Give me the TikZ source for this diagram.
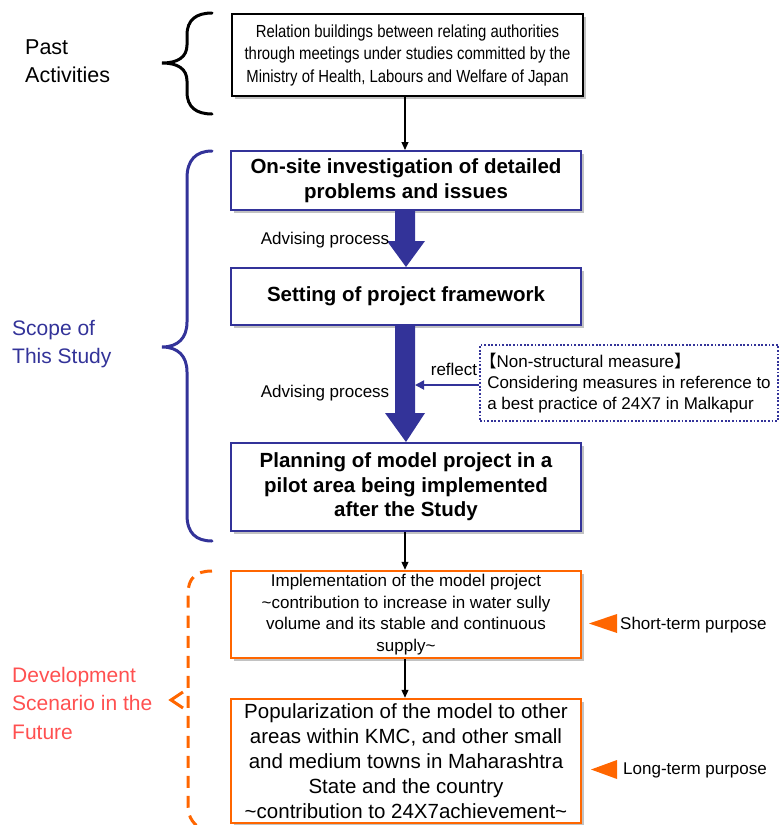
\documentclass[tikz,border=0pt]{standalone}
\usepackage{fontspec}
\setmainfont{Liberation Sans}
\newfontfamily\narrowfont{Liberation Sans}[FakeStretch=0.85]
\newfontfamily\cjk{Noto Sans CJK JP}
\usetikzlibrary{shadows,arrows.meta,calc}
\definecolor{navyC}{RGB}{51,51,153}
\definecolor{orangeC}{RGB}{255,102,0}
\definecolor{devC}{RGB}{255,80,80}
\tikzset{
  shadowed/.style={drop shadow={shadow xshift=3pt,shadow yshift=-3pt,fill=black!40,opacity=0.6}},
  blackbox/.style={draw=black,line width=2pt,fill=white,shadowed,minimum width=351pt,align=center,inner sep=0pt,
    font=\narrowfont\fontsize{17.5}{22.5}\selectfont},
  bluebox/.style={draw=navyC,line width=2pt,fill=white,shadowed,minimum width=350pt,align=center,inner sep=0pt,
    font=\bfseries\fontsize{20.5}{24.5}\selectfont},
  orangebox/.style={draw=orangeC,line width=2.5pt,fill=white,shadowed,minimum width=350pt,align=center,inner sep=0pt},
  thinarrow/.style={draw=black,line width=1.1pt,-{Triangle[length=8pt,width=7pt]}},
  sidelabel/.style={anchor=west,align=left,inner sep=0pt,font=\fontsize{21.5}{28}\selectfont},
  plain/.style={inner sep=0pt,font=\fontsize{17}{21}\selectfont},
  bracestyle/.style={line width=3pt,line cap=round}
}
\begin{document}
\begin{tikzpicture}[x=1pt,y=-1pt]
\useasboundingbox (0,0) rectangle (782,825);

% boxes
\node[blackbox,minimum height=82pt] (top) at (407.5,55) {Relation buildings between relating authorities\\through meetings under studies committed by the\\Ministry of Health, Labours and Welfare of Japan};
\node[bluebox,minimum height=59pt] (b2) at (406,180.5) {On-site investigation of detailed\\problems and issues};
\node[bluebox,minimum height=57pt] (b3) at (406,296.5) {Setting of project framework};
\node[bluebox,minimum height=88pt] (b4) at (406,487) {Planning of model project in a\\pilot area being implemented\\after the Study};
\node[orangebox,minimum height=87pt,font=\fontsize{17}{21.5}\selectfont] (b5) at (406,614.5) {Implementation of the model project\\\textasciitilde contribution to increase in water sully\\volume and its stable and continuous\\supply\textasciitilde};
\node[orangebox,minimum height=124pt,font=\fontsize{20.5}{25}\selectfont] (b6) at (406,761) {Popularization of the model to other\\areas within KMC, and other small\\and medium towns in Maharashtra\\State and the country\\\textasciitilde contribution to 24X7achievement\textasciitilde};

\node[draw=navyC,line width=1.8pt,dash pattern=on 1.8pt off 1.8pt,fill=white,minimum width=298pt,minimum height=76pt,
  align=left,inner sep=0pt,font=\fontsize{17}{21}\selectfont] (dot) at (629,383)
  {{\cjk\hspace*{-0.45em}【}Non-structural measure{\cjk 】}\\Considering measures in reference to\\a best practice of 24X7 in Malkapur};

% side labels
\node[sidelabel] (past) at (25,61) {Past\\Activities};
\node[sidelabel,text=navyC,font=\fontsize{21}{28}\selectfont] (scope) at (12,344) {Scope of\\This Study};
\node[sidelabel,text=devC,font=\fontsize{21}{28.5}\selectfont] (dev) at (12,703) {Development\\Scenario in the\\Future};

% thin arrows
\draw[thinarrow] (top.south -| 405,0) -- (b2.north -| 405,0);
\draw[thinarrow] (b4.south -| 405,0) -- (b5.north -| 405,0);
\draw[thinarrow] (b5.south -| 405,0) -- (b6.north -| 405,0);

% thick arrows
\fill[navyC] ($(b2.south)+(-11,0)$) -- ($(b3.north)+(-11,-26)$) -- ($(b3.north)+(-19,-26)$) -- (b3.north)
  -- ($(b3.north)+(19,-26)$) -- ($(b3.north)+(9,-26)$) -- ($(b2.south)+(9,0)$) -- cycle;
\fill[navyC] ($(b3.south)+(-11,0)$) -- ($(b4.north)+(-11,-29)$) -- ($(b4.north)+(-21,-29)$) -- (b4.north)
  -- ($(b4.north)+(19,-29)$) -- ($(b4.north)+(9,-29)$) -- ($(b3.south)+(9,0)$) -- cycle;

\node[plain] (adv1) at (325,240) {Advising process};
\node[plain] (adv2) at (325,393) {Advising process};

% reflect arrow
\coordinate (rt) at (415,385);
\draw[navyC,line width=1.8pt,-{Triangle[length=9pt,width=9pt]}] (dot.west |- rt) -- (rt);
\node[plain] (refl) at (454,369) {reflect};

% purposes
\node[plain,anchor=west] (st) at (620,625) {Short-term purpose};
\node[plain,anchor=west] (lt) at (623,770) {Long-term purpose};
\fill[orangeC] (589,623.5) -- (617,614) -- (617,633) -- cycle;
\fill[orangeC] (591,769.5) -- (617,760) -- (617,779) -- cycle;

% braces
\draw[bracestyle,black] (212,13) .. controls (196,13) and (187,20) .. (187,35) -- (187,45)
  .. controls (187,57) and (178,63) .. (162,63) .. controls (178,63) and (187,69) .. (187,81)
  -- (187,92) .. controls (187,107) and (196,114) .. (212,114);
\draw[bracestyle,navyC] (212,151) .. controls (196,151) and (187,160) .. (187,178) -- (187,322)
  .. controls (187,338) and (178,347) .. (162,347) .. controls (178,347) and (187,356) .. (187,372)
  -- (187,515) .. controls (187,533) and (196,541) .. (212,541);
\draw[orangeC,line width=3pt,dash pattern=on 12pt off 8pt] (212,571) .. controls (196,571) and (188,578) .. (188,594)
  -- (188,806) .. controls (188,818) and (194,825) .. (205,832);
\draw[orangeC,line width=3pt] (183,692) -- (171,700) -- (183,708);
\end{tikzpicture}
\end{document}
